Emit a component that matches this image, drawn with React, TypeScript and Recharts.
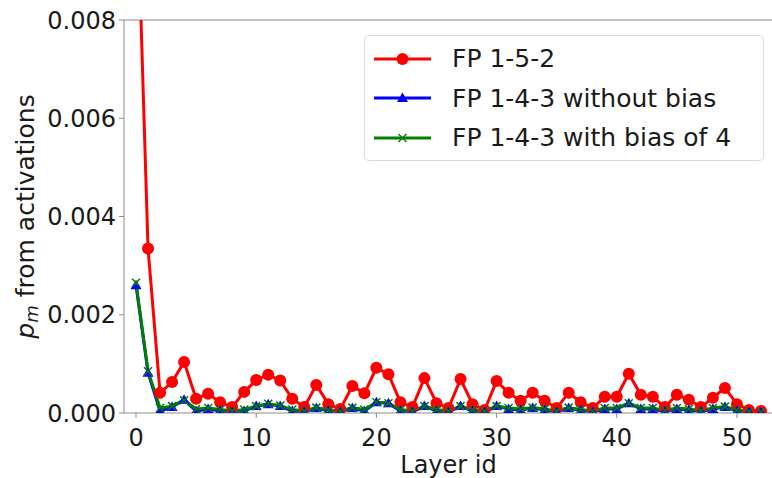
import React from "react";
import {
  LineChart,
  Line,
  XAxis,
  YAxis,
  Label,
  ReferenceLine,
} from "recharts";

// p_m per layer (layer 0 of FP 1-5-2 runs off the top)
const FP152 = [
  0.0113, 0.00335, 0.00041, 0.00063, 0.00104, 0.00029, 0.00039, 0.00022, 0.00012, 0.00043,
  0.00067, 0.00078, 0.00066, 0.00029, 0.00012, 0.00057, 0.00018, 0.00008, 0.00055, 0.0004,
  0.00092, 0.00079, 0.00022, 0.00012, 0.00071, 0.0002, 0.0001, 0.00069, 0.00018, 0.00006,
  0.00065, 0.00041, 0.00025, 0.00041, 0.00025, 0.0001, 0.00041, 0.00022, 0.0001, 0.00033,
  0.00033, 0.0008, 0.00037, 0.00033, 0.00012, 0.00037, 0.00027, 0.00012, 0.00031, 0.00051,
  0.00018, 0.00006, 0.00004,
];
const FP143_NO_BIAS = [
  0.0026, 0.00082, 0.00004, 0.00012, 0.00027, 0.00004, 0.00008, 0.00004, 0.00002, 0.00004,
  0.00014, 0.00018, 0.00014, 0.00004, 0.00002, 0.0001, 0.00004, 0.00002, 0.0001, 0.00004,
  0.00022, 0.0002, 0.00004, 0.00002, 0.00014, 0.00004, 0.00002, 0.00014, 0.00004, 0.00002,
  0.00014, 0.00008, 0.00006, 0.0001, 0.00006, 0.00002, 0.0001, 0.00005, 0.00002, 0.00008,
  0.00008, 0.0002, 0.00008, 0.00008, 0.00003, 0.00008, 0.00006, 0.00003, 0.00008, 0.00012,
  0.00004, 0.00002, 0.00001,
];
const FP143_BIAS4 = [
  0.00265, 0.00085, 0.0001, 0.00014, 0.00026, 0.00008, 0.0001, 0.00007, 0.00004, 0.00007,
  0.00014, 0.00019, 0.00015, 0.00007, 0.00004, 0.00011, 0.00006, 0.00004, 0.00011, 0.00007,
  0.00022, 0.0002, 0.00007, 0.00004, 0.00014, 0.00007, 0.00004, 0.00014, 0.00007, 0.00004,
  0.00014, 0.0001, 0.00008, 0.00011, 0.00008, 0.00004, 0.00011, 0.00007, 0.00004, 0.0001,
  0.0001, 0.0002, 0.0001, 0.0001, 0.00005, 0.0001, 0.00008, 0.00005, 0.0001, 0.00013,
  0.00006, 0.00003, 0.00002,
];
const X_TICKS = [0, 10, 20, 30, 40, 50];
const Y_TICKS = [0, 0.002, 0.004, 0.006, 0.008];

const SERIES = [
  { key: "a", name: "FP 1-5-2", color: "#ff0000", marker: "circle" },
  { key: "b", name: "FP 1-4-3 without bias", color: "#0000ff", marker: "triangle" },
  { key: "c", name: "FP 1-4-3 with bias of 4", color: "#008000", marker: "x" },
];

const data = FP152.map((v, i) => ({
  layer: i,
  a: v,
  b: FP143_NO_BIAS[i],
  c: FP143_BIAS4[i],
}));

const FONT = "DejaVu Sans, sans-serif";
const AXIS = "#8c8c8c";

function Marker({ type, cx, cy, color }: { type: string; cx: number; cy: number; color: string }) {
  if (type === "circle") return <circle cx={cx} cy={cy} r={6} fill={color} />;
  if (type === "triangle")
    return <polygon points={`${cx},${cy - 5.5} ${cx - 5.5},${cy + 4} ${cx + 5.5},${cy + 4}`} fill={color} />;
  return (
    <g stroke={color} strokeWidth={1.5}>
      <line x1={cx - 4} y1={cy - 4} x2={cx + 4} y2={cy + 4} />
      <line x1={cx - 4} y1={cy + 4} x2={cx + 4} y2={cy - 4} />
    </g>
  );
}

const makeDot = (type: string, color: string) => (p: any) => {
  if (p.cx == null || p.cy == null) return <g key={`e-${p.index}`} />;
  return (
    <g key={`d-${type}-${p.index}`}>
      <Marker type={type} cx={p.cx} cy={p.cy} color={color} />
    </g>
  );
};

// legend drawn as an overlay so the chart doesn't reserve space for it
function LegendBox() {
  return (
    <div
      style={{
        position: "absolute",
        left: 364,
        top: 35,
        width: 400,
        height: 126,
        border: "1px solid #d9d9d9",
        borderRadius: 5,
        background: "rgba(255,255,255,0.8)",
        fontFamily: FONT,
        fontSize: 25,
        color: "#1a1a1a",
        boxSizing: "border-box",
        paddingTop: 3,
      }}
    >
      {SERIES.map((s) => (
        <div key={s.key} style={{ display: "flex", alignItems: "center", height: 39.5 }}>
          <svg width={87} height={20} style={{ flexShrink: 0 }}>
            <line x1={9} y1={10} x2={66} y2={10} stroke={s.color} strokeWidth={3} />
            <Marker type={s.marker} cx={37.5} cy={10} color={s.color} />
          </svg>
          <span style={{ whiteSpace: "nowrap" }}>{s.name}</span>
        </div>
      ))}
    </div>
  );
}

function YLabel({ viewBox }: any) {
  const cx = viewBox.x + 25;
  const cy = viewBox.y + viewBox.height / 2;
  return (
    <text
      x={cx}
      y={cy}
      transform={`rotate(-90 ${cx} ${cy})`}
      textAnchor="middle"
      dominantBaseline="central"
      fontFamily={FONT}
      fontSize={25}
      fill="#1a1a1a"
    >
      <tspan fontStyle="italic">p</tspan>
      <tspan fontStyle="italic" fontSize={18} dy={6}>m</tspan>
      <tspan dy={-6}> from activations</tspan>
    </text>
  );
}

export default function App() {
  return (
    <div style={{ position: "absolute", left: 0, top: 0, width: 772, height: 478, background: "#fff", overflow: "hidden" }}>
      <LineChart width={772} height={478} data={data} margin={{ top: 20, right: -1, bottom: 0, left: 0 }}>
        <XAxis
          type="number"
          dataKey="layer"
          domain={[-1, 53]}
          ticks={X_TICKS}
          allowDataOverflow
          height={65}
          tickSize={5}
          tickMargin={11}
          stroke={AXIS}
          tick={{ fontSize: 24, fill: "#1a1a1a", fontFamily: FONT }}
        >
          <Label
            value="Layer id"
            position="insideBottom"
            offset={5}
            style={{ fontSize: 24, fill: "#1a1a1a", fontFamily: FONT }}
          />
        </XAxis>
        <YAxis
          type="number"
          domain={[0, 0.008]}
          ticks={Y_TICKS}
          allowDataOverflow
          width={124}
          tickSize={5}
          tickMargin={3}
          stroke={AXIS}
          tickFormatter={(v: number) => v.toFixed(3)}
          tick={{ fontSize: 24, fill: "#1a1a1a", fontFamily: FONT }}
        >
          <Label content={<YLabel />} />
        </YAxis>
        <ReferenceLine y={0.008} stroke={AXIS} strokeWidth={1} ifOverflow="extendDomain" />
        {SERIES.map((s) => (
          <Line
            key={s.key}
            type="linear"
            dataKey={s.key}
            name={s.name}
            stroke={s.color}
            strokeWidth={3}
            dot={makeDot(s.marker, s.color)}
            activeDot={false}
            isAnimationActive={false}
          />
        ))}
      </LineChart>
      <LegendBox />
    </div>
  );
}
